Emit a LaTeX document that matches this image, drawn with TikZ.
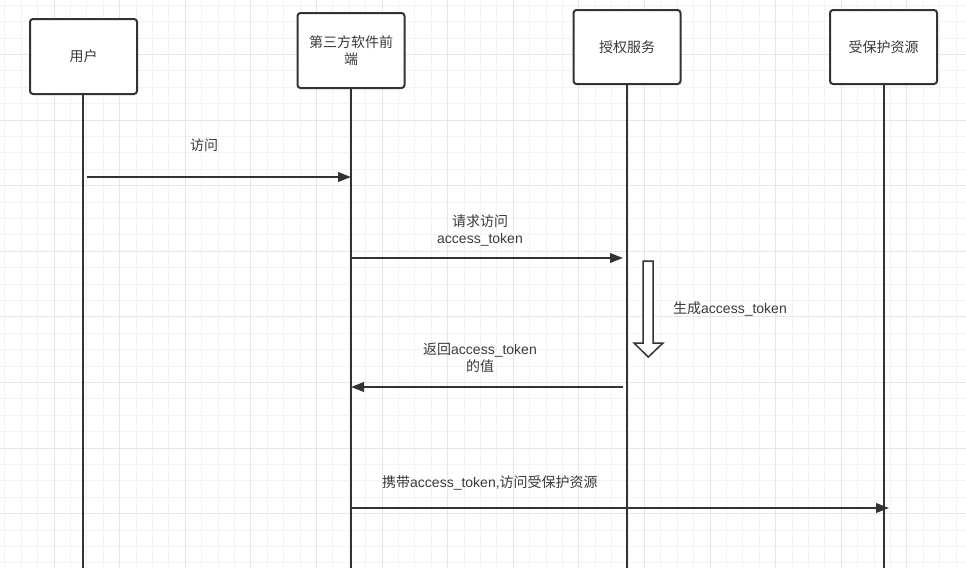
\documentclass[tikz,border=0pt]{standalone}
\usepackage{fontspec}
\setmainfont{Liberation Sans}
\newfontfamily\cjk{Noto Sans CJK SC}
\newcommand{\zh}[1]{{\cjk #1}}
\usetikzlibrary{arrows.meta}
\definecolor{inkgrey}{HTML}{333333}
\definecolor{textgrey}{HTML}{3A3A3A}
\definecolor{gridminor}{HTML}{F3F3F3}
\definecolor{gridmajor}{HTML}{E6E6E6}

\begin{document}
\begin{tikzpicture}[
    x=1pt, y=-1pt,
    font=\fontsize{14}{17}\selectfont,
    actor/.style={draw=inkgrey, line width=2pt, rounded corners=3pt, fill=white,
        text=textgrey, minimum width=107pt, minimum height=75pt, align=center, inner sep=0pt},
    lifeline/.style={inkgrey, line width=2pt},
    msg/.style={inkgrey, line width=2pt, -{Triangle[length=13pt, width=9.5pt]}},
    msglabel/.style={text=textgrey, align=center, inner sep=0pt}
]

    % ==========================================
    % BACKGROUND GRID
    % ==========================================
    \useasboundingbox (0,0) rectangle (966,568);
    \fill[white] (0,0) rectangle (966,568);
    \foreach \i in {0,...,58}
        \draw[gridminor, line width=1pt] ({4.8+16.4*\i},0) -- ++(0,568);
    \foreach \j in {0,...,34}
        \draw[gridminor, line width=1pt] (0,{5.2+16.4*\j}) -- ++(966,0);
    \foreach \i in {0,...,13}
        \draw[gridmajor, line width=1pt] ({54+65.6*\i},0) -- ++(0,568);
    \foreach \j in {0,...,7}
        \draw[gridmajor, line width=1pt] (0,{54.4+65.6*\j}) -- ++(966,0);

    % ==========================================
    % PARTICIPANTS
    % ==========================================
    \node[actor] (user)  at (83.5,56.5) {\zh{用户}};
    \node[actor] (front) at (351,50.5)  {\zh{第三方软件前}\\\zh{端}};
    \node[actor, minimum height=74pt] (auth) at (627,47)    {\zh{授权服务}};
    \node[actor, minimum height=74pt] (res)  at (883.5,47)  {\zh{受保护资源}};

    % Lifelines
    \coordinate (user_end)  at (83,568);
    \coordinate (front_end) at (351,568);
    \coordinate (auth_end)  at (627,568);
    \coordinate (res_end)   at (883.5,568);

    \draw[lifeline] (user_end |- user.south)   -- (user_end);
    \draw[lifeline] (front_end |- front.south) -- (front_end);
    \draw[lifeline] (auth_end |- auth.south)   -- (auth_end);
    \draw[lifeline] (res_end |- res.south)     -- (res_end);

    % ==========================================
    % MESSAGES
    % ==========================================
    % user -> front
    \coordinate (m1_from) at (87,177);
    \draw[msg] (m1_from) -- (front_end |- m1_from);
    \node[msglabel] (m1_text) at (204,145) {\zh{访问}};

    % front -> auth
    \coordinate (m2_from) at (351,258);
    \coordinate (m2_to)   at (623,258);
    \draw[msg] (m2_from) -- (m2_to);
    \node[msglabel] (m2_text) at (480,231) {\zh{请求访问}\\access\_token};

    % auth generates the token (hollow block arrow)
    \draw[inkgrey, line width=1.5pt, fill=white, line join=miter]
        (643,261) -- (653,261) -- (653,343) -- (663,343) -- (648.3,357)
        -- (634,343) -- (643,343) -- cycle;
    \node[msglabel] (gen_text) at (730,309) {\zh{生成}access\_token};

    % auth -> front
    \coordinate (m3_from) at (623,387);
    \draw[msg] (m3_from) -- (front_end |- m3_from);
    \node[msglabel] (m3_text) at (480,358) {\zh{返回}access\_token\\\zh{的值}};

    % front -> protected resource
    \coordinate (m4_from) at (351,508);
    \coordinate (m4_to)   at (889,508);
    \draw[msg] (m4_from) -- (m4_to);
    \node[msglabel, anchor=west] (m4_text) at (382,483) {\zh{携带}access\_token,\zh{访问受保护资源}};

\end{tikzpicture}
\end{document}
